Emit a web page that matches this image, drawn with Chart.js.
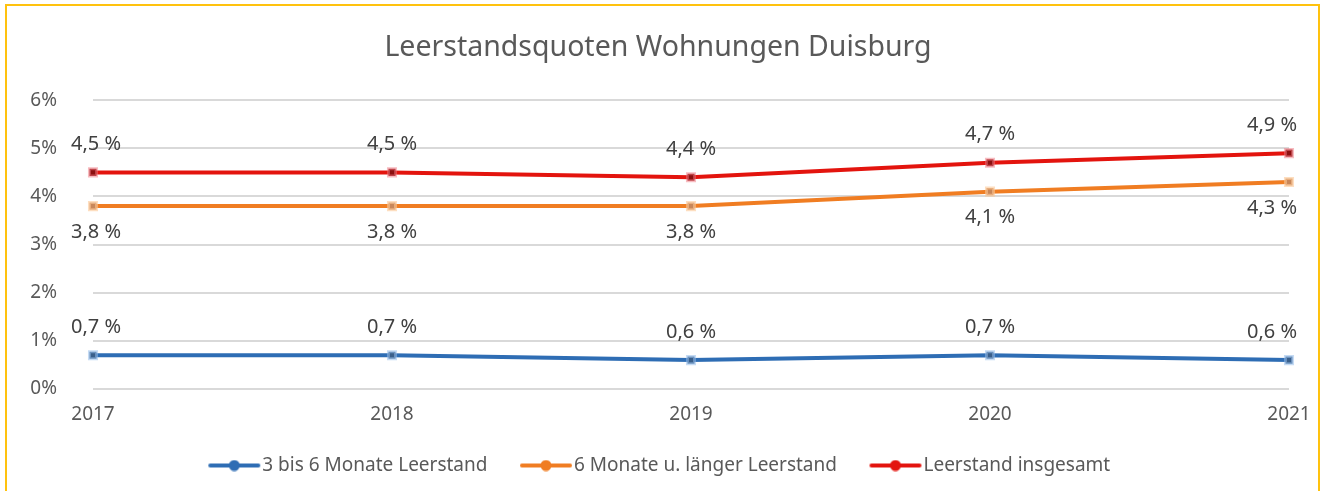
<!DOCTYPE html>
<html lang="de">
<head>
<meta charset="utf-8">
<title>Leerstandsquoten Wohnungen Duisburg</title>
<script src="https://cdn.jsdelivr.net/npm/chart.js@4/dist/chart.umd.min.js"></script>
<style>
    html, body { margin: 0; padding: 0; background: #fff; overflow: hidden; }
    #wrap { position: relative; width: 1325px; height: 491px; }
    #frame {
        position: absolute; left: 5px; top: 4px; width: 1315px; height: 520px;
        border: 2px solid #ffc20e; box-sizing: border-box;
    }
    #chart { position: absolute; left: 0; top: 0; }
</style>
</head>
<body>
<div id="wrap">
    <div id="frame"></div>
    <canvas id="chart" width="1325" height="491"></canvas>
</div>
<script>
const years = ['2017', '2018', '2019', '2020', '2021'];
const shortTerm = [0.7, 0.7, 0.6, 0.7, 0.6];   // 3 bis 6 Monate
const longTerm = [3.8, 3.8, 3.8, 4.1, 4.3];    // 6 Monate und länger
const total = [4.5, 4.5, 4.4, 4.7, 4.9];       // insgesamt
const yTicks = [0, 1, 2, 3, 4, 5, 6];

const FONT = 'Noto Sans';
const TEXT = '#595959';

// legend symbol: line with a dot, sitting in the right part of the canvas
// so it ends right before the label text
function legendMark(color) {
    const c = document.createElement('canvas');
    c.width = 64;
    c.height = 12;
    const g = c.getContext('2d');
    g.strokeStyle = color;
    g.lineWidth = 4;
    g.lineCap = 'round';
    g.beginPath();
    g.moveTo(13, 6);
    g.lineTo(61, 6);
    g.stroke();
    g.fillStyle = color;
    g.beginPath();
    g.arc(37, 6, 5.5, 0, Math.PI * 2);
    g.fill();
    return c;
}

function fmt(v) {
    return v.toFixed(1).replace('.', ',') + ' %';
}

// value labels above or below each point
const valueLabels = {
    id: 'valueLabels',
    afterDatasetsDraw(chart) {
        const ctx = chart.ctx;
        const area = chart.chartArea;
        ctx.save();
        ctx.font = '20px "' + FONT + '"';
        ctx.fillStyle = '#404040';
        ctx.textAlign = 'center';
        ctx.textBaseline = 'middle';
        chart.data.datasets.forEach((ds, i) => {
            const meta = chart.getDatasetMeta(i);
            meta.data.forEach((pt, j) => {
                const txt = fmt(ds.data[j]);
                const w = ctx.measureText(txt).width;
                let x = pt.x;
                if (x + w / 2 > area.right + 8) x = area.right + 8 - w / 2;
                if (x - w / 2 < area.left - 22) x = area.left - 22 + w / 2;
                const y = pt.y + (ds.labelPos === 'below' ? 26 : -28);
                ctx.fillText(txt, x, y);
            });
        });
        ctx.restore();
    }
};

function series(label, data, color, dark, halo, labelPos) {
    return {
        label: label,
        data: data,
        borderColor: color,
        backgroundColor: color,
        borderWidth: 4,
        pointStyle: 'rect',
        pointRadius: 5,
        pointBackgroundColor: dark,
        pointBorderColor: halo,
        pointBorderWidth: 3,
        tension: 0,
        labelPos: labelPos,
        legendMark: legendMark(color)
    };
}

new Chart(document.getElementById('chart'), {
    type: 'line',
    data: {
        labels: years,
        datasets: [
            series('3 bis 6 Monate Leerstand', shortTerm, '#2e6db4', '#3a5f8a', 'rgba(150,190,235,0.55)', 'above'),
            series('6 Monate u. länger Leerstand', longTerm, '#f07d22', '#c8875a', 'rgba(252,200,150,0.6)', 'below'),
            series('Leerstand insgesamt', total, '#e3140e', '#8c1010', 'rgba(240,120,130,0.5)', 'above')
        ]
    },
    options: {
        responsive: false,
        animation: false,
        layout: { padding: { left: 27, right: 36, top: 0, bottom: 6 } },
        scales: {
            x: {
                grid: { display: false },
                border: { display: false },
                ticks: { color: TEXT, font: { family: FONT, size: 19 }, padding: 6, maxRotation: 0 },
                afterFit(scale) { scale.height = 37; }
            },
            y: {
                min: 0,
                max: 6,
                afterBuildTicks(scale) { scale.ticks = yTicks.map(v => ({ value: v })); },
                grid: { color: '#d9d9d9', lineWidth: 2, drawTicks: false },
                border: { display: false },
                ticks: {
                    color: TEXT,
                    font: { family: FONT, size: 19 },
                    padding: 36,
                    callback: v => v + '%'
                },
                afterFit(scale) { scale.width = 66; }
            }
        },
        plugins: {
            title: {
                display: true,
                text: 'Leerstandsquoten Wohnungen Duisburg',
                color: TEXT,
                font: { family: FONT, size: 28.5, weight: 'normal' },
                padding: { top: 31, bottom: 35 }
            },
            legend: {
                position: 'bottom',
                labels: {
                    color: TEXT,
                    font: { family: FONT, size: 19 },
                    usePointStyle: true,
                    pointStyleWidth: 47,
                    padding: 30,
                    generateLabels(chart) {
                        return chart.data.datasets.map((ds, i) => ({
                            text: ds.label,
                            pointStyle: ds.legendMark,
                            fontColor: TEXT,
                            lineWidth: 0,
                            datasetIndex: i
                        }));
                    }
                }
            },
            tooltip: { enabled: false }
        }
    },
    plugins: [valueLabels]
});
</script>
</body>
</html>
